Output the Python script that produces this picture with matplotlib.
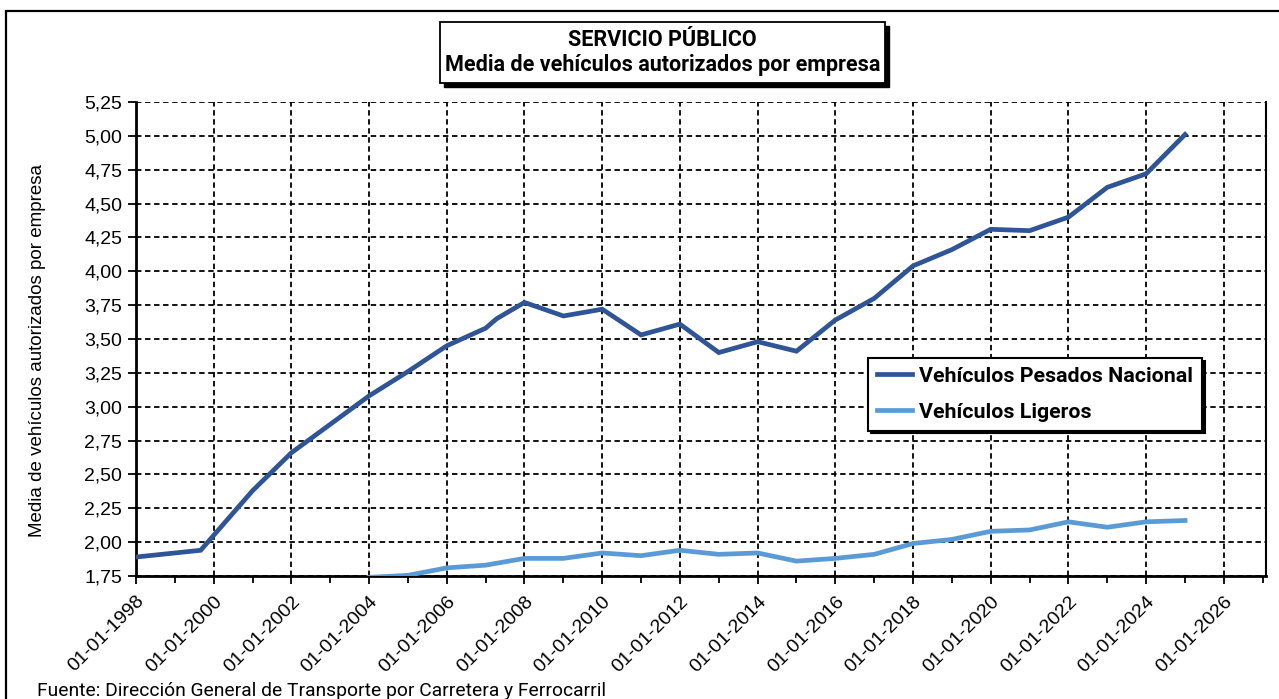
import numpy as np
import pandas as pd
import matplotlib
matplotlib.use("Agg")
import matplotlib.pyplot as plt
import matplotlib.dates as mdates
from matplotlib.patches import Rectangle

# Media de vehículos autorizados por empresa (servicio público)
pesados_fechas = ["1998-01-01", "1999-09-01", "2001-01-01", "2002-01-01", "2003-01-01",
                  "2004-01-01", "2005-01-01", "2006-01-01", "2007-01-01", "2007-04-15",
                  "2008-01-01", "2009-01-01", "2010-01-01", "2011-01-01", "2012-01-01",
                  "2013-01-01", "2014-01-01", "2015-01-01", "2016-01-01", "2017-01-01",
                  "2018-01-01", "2019-01-01", "2020-01-01", "2021-01-01", "2022-01-01",
                  "2023-01-01", "2024-01-01", "2025-01-01"]
pesados_valores = [1.89, 1.94, 2.38, 2.66, 2.87,
                   3.08, 3.26, 3.45, 3.58, 3.65,
                   3.77, 3.67, 3.72, 3.53, 3.61,
                   3.40, 3.48, 3.41, 3.64, 3.80,
                   4.04, 4.16, 4.31, 4.30, 4.40,
                   4.62, 4.72, 5.01]

ligeros_fechas = ["2004-01-01", "2005-01-01", "2006-01-01", "2007-01-01", "2008-01-01",
                  "2009-01-01", "2010-01-01", "2011-01-01", "2012-01-01", "2013-01-01",
                  "2014-01-01", "2015-01-01", "2016-01-01", "2017-01-01", "2018-01-01",
                  "2019-01-01", "2020-01-01", "2021-01-01", "2022-01-01", "2023-01-01",
                  "2024-01-01", "2025-01-01"]
ligeros_valores = [1.74, 1.755, 1.81, 1.83, 1.88,
                   1.88, 1.92, 1.90, 1.94, 1.91,
                   1.92, 1.86, 1.88, 1.91, 1.99,
                   2.02, 2.08, 2.09, 2.15, 2.11,
                   2.15, 2.16]

titulo = "SERVICIO PÚBLICO\nMedia de vehículos autorizados por empresa"
eje_y = "Media de vehículos autorizados por empresa"
fuente = "Fuente: Dirección General de Transporte por Carretera y Ferrocarril"

COLOR_PESADOS = "#2F5597"
COLOR_LIGEROS = "#5B9BD5"

W, H = 1279, 699
fig = plt.figure(figsize=(W / 100, H / 100), dpi=100)
fig.patch.set_facecolor("white")

# marco exterior del gráfico
fig.add_artist(Rectangle((6 / W, -0.05), 1.2, 1 - 11 / H + 0.05, transform=fig.transFigure,
                         fill=False, edgecolor="black", linewidth=1.6))

ax = fig.add_axes([136 / W, 1 - 576 / H, (1266 - 136) / W, (576 - 102) / H])

ax.plot(pd.to_datetime(pesados_fechas), pesados_valores, color=COLOR_PESADOS, lw=3.4,
        label="Vehículos Pesados Nacional", solid_joinstyle="miter", zorder=3)
ax.plot(pd.to_datetime(ligeros_fechas), ligeros_valores, color=COLOR_LIGEROS, lw=3.4,
        label="Vehículos Ligeros", solid_joinstyle="miter", zorder=3)

ax.set_xlim(pd.Timestamp("1998-01-01"), pd.Timestamp("2027-02-01"))
ax.set_ylim(1.75, 5.25)
ax.set_yticks(np.arange(1.75, 5.26, 0.25))
ax.yaxis.set_major_formatter(lambda v, p: f"{v:.2f}".replace(".", ","))

ax.xaxis.set_major_locator(mdates.YearLocator(2))
ax.xaxis.set_minor_locator(mdates.YearLocator(1))
ax.xaxis.set_major_formatter(mdates.DateFormatter("%d-%m-%Y"))

ax.grid(True, which="major", color="black", linestyle=(0, (3, 2)), linewidth=1.3)
ax.set_axisbelow(True)

for lab in ax.get_xticklabels():
    lab.set_rotation(45)
    lab.set_ha("right")
    lab.set_rotation_mode("anchor")

ax.tick_params(axis="both", which="both", direction="out", color="black", width=1.3)
ax.tick_params(axis="x", which="major", length=6, labelsize=14, pad=6)
ax.tick_params(axis="x", which="minor", length=5)
ax.tick_params(axis="y", length=6, labelsize=14, pad=4)
for lab in ax.get_xticklabels() + ax.get_yticklabels():
    lab.set_fontfamily("Liberation Sans")

ax.spines["top"].set_visible(False)
ax.spines["left"].set_linewidth(2)
ax.spines["bottom"].set_linewidth(2)
ax.spines["right"].set_linewidth(1.5)

ax.set_ylabel(eje_y, fontsize=13.5, family="Liberation Sans")
ax.yaxis.set_label_coords(-0.08, 0.475)

# caja del título con sombra
tx0, tx1, ty0, ty1 = 440, 885, 22, 83
fig.add_artist(Rectangle((tx0 / W + 4 / W, 1 - ty1 / H - 4 / H), (tx1 - tx0) / W, (ty1 - ty0) / H,
                         transform=fig.transFigure, facecolor="black", edgecolor="black"))
fig.add_artist(Rectangle((tx0 / W, 1 - ty1 / H), (tx1 - tx0) / W, (ty1 - ty0) / H,
                         transform=fig.transFigure, facecolor="white", edgecolor="black", linewidth=1.3))
fig.text((tx0 + tx1) / 2 / W, 1 - (ty0 + ty1) / 2 / H, titulo, ha="center", va="center",
         fontsize=15.5, fontweight="bold", family="Roboto", linespacing=1.2)

leg = ax.legend(loc="upper left", bbox_to_anchor=(868 / W, 1 - 358 / H), bbox_transform=fig.transFigure,
                borderaxespad=0, fancybox=False, shadow={"color": "black", "alpha": 1}, framealpha=1,
                edgecolor="black", handlelength=1.65, handletextpad=0.33, labelspacing=0.78,
                borderpad=0.42, prop={"family": "Roboto", "weight": "bold", "size": 15.4})
leg.get_frame().set_linewidth(1.5)

fig.text(37 / W, 3 / H, fuente, ha="left", va="baseline", fontsize=13.9, family="Roboto")

fig.savefig("out.png", dpi=100)
